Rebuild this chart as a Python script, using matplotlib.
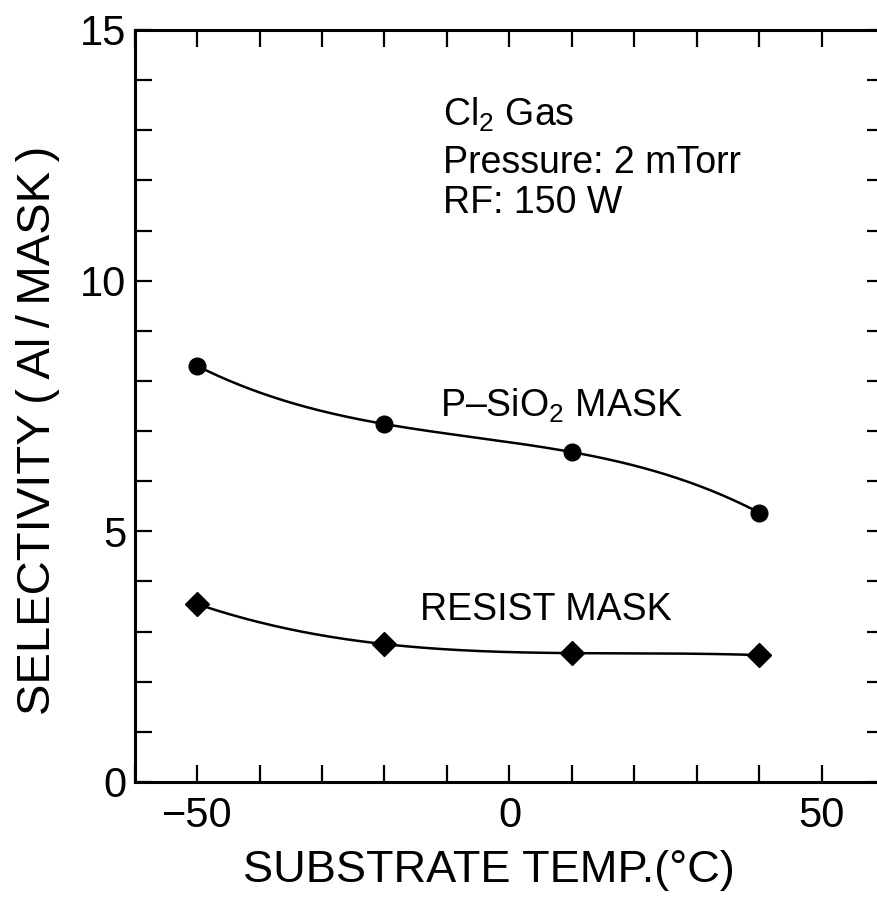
import matplotlib.pyplot as plt
import numpy as np
from matplotlib.ticker import MultipleLocator

plt.rcParams['font.family'] = ['Liberation Sans', 'DejaVu Sans']
plt.rcParams['mathtext.fontset'] = 'custom'
plt.rcParams['mathtext.rm'] = 'Liberation Sans'
plt.rcParams['mathtext.it'] = 'Liberation Sans:italic'

temps = [-50, -20, 10, 40]
sio2_sel = [8.30, 7.14, 6.58, 5.37]
resist_sel = [3.55, 2.75, 2.57, 2.53]

fig = plt.figure(figsize=(8.77, 9.06), dpi=100)
ax = fig.add_axes([0.1534, 0.1369, 0.855, 0.830])

# smooth curves drawn through the measured points (cubic through 4 pts)
xs = np.linspace(temps[0], temps[-1], 200)
for ys, mk, ms in ((sio2_sel, 'o', 12), (resist_sel, 'D', 12)):
    c = np.polyfit(temps, ys, 3)
    ax.plot(xs, np.polyval(c, xs), color='black', lw=1.8)
    ax.plot(temps, ys, mk, color='black', ms=ms, ls='none')

ax.set_xlim(-60, 60)
ax.set_ylim(0, 15)
ax.xaxis.set_major_locator(MultipleLocator(50))
ax.xaxis.set_minor_locator(MultipleLocator(10))
ax.yaxis.set_major_locator(MultipleLocator(5))
ax.yaxis.set_minor_locator(MultipleLocator(1))
ax.tick_params(which='both', direction='in', top=True, right=True,
               length=12, width=1.6)
ax.tick_params(axis='both', labelsize=30)
ax.tick_params(axis='x', pad=10)
ax.tick_params(axis='y', pad=6)
for s in ax.spines.values():
    s.set_linewidth(2.2)

ax.set_xlabel('SUBSTRATE TEMP.(°C)', fontsize=32.5)
ax.xaxis.set_label_coords(0.473, -0.091)
ax.set_ylabel('SELECTIVITY\u2009(\u2009Al\u2009/\u2009MASK\u2009)', fontsize=34)
ax.yaxis.set_label_coords(-0.099, 0.467)

ax.text(-10.7, 13.1, r'Cl$_\mathrm{2}$ Gas', fontsize=27)
ax.text(-10.7, 12.15, 'Pressure: 2 mTorr', fontsize=27)
ax.text(-10.7, 11.35, 'RF: 150 W', fontsize=27)
ax.text(-11.1, 7.28, r'P–SiO$_\mathrm{2}$ MASK', fontsize=27)
ax.text(-14.3, 3.23, 'RESIST MASK', fontsize=27)

fig.savefig('out.png', dpi=100)
